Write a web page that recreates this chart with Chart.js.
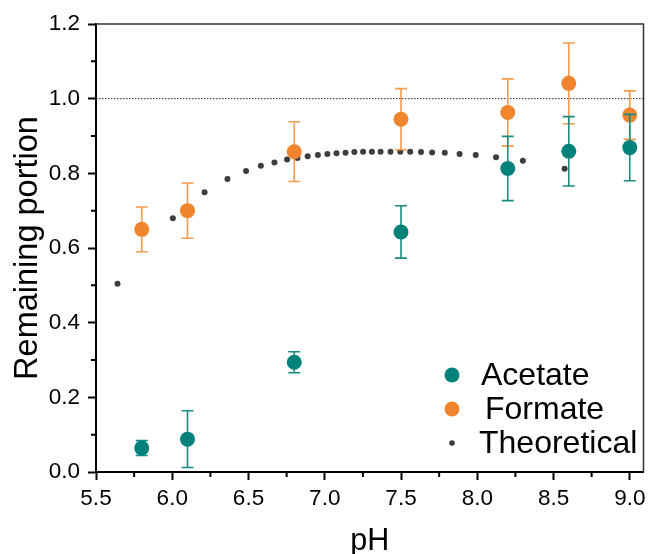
<!DOCTYPE html>
<html>
<head>
<meta charset="utf-8">
<script src="https://cdn.jsdelivr.net/npm/chart.js@4"></script>
<style>
    html, body { margin: 0; padding: 0; background: #fff; }
    #wrap { width: 651px; height: 554px; }
</style>
</head>
<body>
<div id="wrap"><canvas id="phChart" width="651" height="554"></canvas></div>
<script>
// Data
const phLevels = [5.8, 6.1, 6.8, 7.5, 8.2, 8.6, 9.0];
const acetateValues = [0.064, 0.088, 0.294, 0.643, 0.813, 0.859, 0.869];
const acetateErrors = [0.020, 0.076, 0.028, 0.070, 0.086, 0.093, 0.089];
const formateValues = [0.650, 0.700, 0.858, 0.945, 0.963, 1.041, 0.956];
const formateErrors = [0.060, 0.074, 0.080, 0.082, 0.090, 0.108, 0.065];

const theoreticalPH = [5.641, 6.004, 6.212, 6.362, 6.484, 6.581, 6.670, 6.753, 6.821, 6.888,
    6.955, 7.017, 7.077, 7.136, 7.194, 7.251, 7.309, 7.366, 7.431, 7.495,
    7.560, 7.631, 7.704, 7.787, 7.884, 7.990, 8.123, 8.299, 8.573];
const theoreticalValues = [0.504, 0.680, 0.749, 0.785, 0.806, 0.820, 0.829, 0.837, 0.841, 0.846,
    0.849, 0.852, 0.854, 0.855, 0.857, 0.858, 0.858, 0.858, 0.858, 0.858,
    0.858, 0.857, 0.856, 0.855, 0.852, 0.849, 0.843, 0.834, 0.812];

const referenceLevel = 1.0;

// Axis ticks
const xTicks = [5.5, 6.0, 6.5, 7.0, 7.5, 8.0, 8.5, 9.0];
const xMinorTicks = [5.75, 6.25, 6.75, 7.25, 7.75, 8.25, 8.75];
const yTicks = [0, 0.2, 0.4, 0.6, 0.8, 1.0, 1.2];
const yMinorTicks = [0.1, 0.3, 0.5, 0.7, 0.9, 1.1];
const xRange = [5.5, 9.09];
const yRange = [0, 1.2];

const FONT = '"Liberation Sans", Arial, sans-serif';
const TEAL = '#00827b';
const ORANGE = '#f0852d';
const DARK = '#3d3d3d';

Chart.defaults.font.family = FONT;
Chart.defaults.color = '#000';

const toPoints = (xs, ys) => xs.map((x, i) => ({ x: x, y: ys[i] }));

// Error bars, drawn just before each dataset's own markers
const errorBarPlugin = {
    id: 'errorBars',
    beforeDatasetDraw(chart, args) {
        const ds = chart.data.datasets[args.index];
        if (!ds.errors) return;
        const { ctx, scales: { x, y } } = chart;
        ctx.save();
        ctx.strokeStyle = ds.errorColor;
        ctx.lineWidth = 1.6;
        ds.data.forEach((p, i) => {
            const px = x.getPixelForValue(p.x);
            const top = y.getPixelForValue(p.y + ds.errors[i]);
            const bottom = y.getPixelForValue(p.y - ds.errors[i]);
            ctx.beginPath();
            ctx.moveTo(px, top);
            ctx.lineTo(px, bottom);
            ctx.moveTo(px - 6, top);
            ctx.lineTo(px + 6, top);
            ctx.moveTo(px - 6, bottom);
            ctx.lineTo(px + 6, bottom);
            ctx.stroke();
        });
        ctx.restore();
    }
};

// Minor ticks and the top/right frame
const framePlugin = {
    id: 'frame',
    afterDraw(chart) {
        const { ctx, chartArea: a, scales: { x, y } } = chart;
        ctx.save();
        ctx.strokeStyle = '#000';
        ctx.lineWidth = 2;
        ctx.beginPath();
        xMinorTicks.forEach(v => {
            const px = x.getPixelForValue(v);
            ctx.moveTo(px, a.bottom);
            ctx.lineTo(px, a.bottom + 5);
        });
        yMinorTicks.forEach(v => {
            const py = y.getPixelForValue(v);
            ctx.moveTo(a.left, py);
            ctx.lineTo(a.left - 5, py);
        });
        ctx.stroke();
        ctx.strokeStyle = '#333';
        ctx.lineWidth = 1.5;
        ctx.beginPath();
        ctx.moveTo(a.left, a.top);
        ctx.lineTo(a.right, a.top);
        ctx.lineTo(a.right, a.bottom);
        ctx.stroke();
        ctx.restore();
    }
};

// Legend inside the plot, bottom right
const legendPlugin = {
    id: 'insideLegend',
    afterDraw(chart) {
        const ctx = chart.ctx;
        const entries = [
            { label: 'Acetate', color: TEAL, r: 7.5, y: 375, tx: 481 },
            { label: 'Formate', color: ORANGE, r: 7.5, y: 409, tx: 485 },
            { label: 'Theoretical', color: DARK, r: 2.8, y: 443, tx: 479 }
        ];
        ctx.save();
        ctx.font = '32px ' + FONT;
        ctx.textBaseline = 'middle';
        ctx.textAlign = 'left';
        entries.forEach(e => {
            ctx.fillStyle = e.color;
            ctx.beginPath();
            ctx.arc(452, e.y, e.r, 0, Math.PI * 2);
            ctx.fill();
            ctx.fillStyle = '#000';
            ctx.fillText(e.label, e.tx, e.y + 1);
        });
        ctx.restore();
    }
};

const axisCommon = {
    type: 'linear',
    grid: { drawOnChartArea: false, drawTicks: true, tickLength: 8, tickWidth: 2, tickColor: '#000' },
    border: { display: true, color: '#000', width: 2 }
};

const ctx = document.getElementById('phChart').getContext('2d');
new Chart(ctx, {
    type: 'scatter',
    data: {
        datasets: [
            {
                label: 'Acetate',
                data: toPoints(phLevels, acetateValues),
                errors: acetateErrors,
                errorColor: '#1a8b84',
                backgroundColor: TEAL,
                borderWidth: 0,
                pointRadius: 7.5,
                pointHoverRadius: 7.5
            },
            {
                label: 'Formate',
                data: toPoints(phLevels, formateValues),
                errors: formateErrors,
                errorColor: '#f39b4e',
                backgroundColor: ORANGE,
                borderWidth: 0,
                pointRadius: 7.5,
                pointHoverRadius: 7.5
            },
            {
                label: 'Theoretical',
                data: toPoints(theoreticalPH, theoreticalValues),
                backgroundColor: DARK,
                borderWidth: 0,
                pointRadius: 3,
                pointHoverRadius: 3
            },
            {
                type: 'line',
                label: 'Reference',
                data: toPoints(xRange, [referenceLevel, referenceLevel]),
                borderColor: '#222',
                borderWidth: 1,
                borderDash: [1.5, 1.5],
                pointRadius: 0,
                fill: false
            }
        ]
    },
    options: {
        responsive: false,
        animation: false,
        events: [],
        layout: { padding: { top: 24, right: 3, left: 0, bottom: 0 } },
        plugins: {
            legend: { display: false },
            tooltip: { enabled: false }
        },
        scales: {
            x: {
                ...axisCommon,
                min: xRange[0],
                max: xRange[1],
                afterBuildTicks: scale => { scale.ticks = xTicks.map(v => ({ value: v })); },
                afterFit: scale => {
                    scale.height = 82;
                    scale.paddingLeft = scale.paddingRight = 0;
                },
                ticks: {
                    font: { size: 22.5 },
                    padding: 5,
                    maxRotation: 0,
                    autoSkip: false,
                    callback: v => Number(v).toFixed(1)
                },
                title: {
                    display: true,
                    text: 'pH',
                    font: { size: 30.5, lineHeight: 0.8 },
                    padding: 0
                }
            },
            y: {
                ...axisCommon,
                min: yRange[0],
                max: yRange[1],
                afterBuildTicks: scale => { scale.ticks = yTicks.map(v => ({ value: v })); },
                afterFit: scale => {
                    scale.width = 96;
                    scale.paddingTop = scale.paddingBottom = 0;
                },
                ticks: {
                    font: { size: 22.5 },
                    padding: 8,
                    autoSkip: false,
                    callback: v => Number(v).toFixed(1)
                },
                title: {
                    display: true,
                    text: 'Remaining portion',
                    font: { size: 32.5, lineHeight: 1.2 },
                    padding: { top: 8.5, bottom: 0 }
                }
            }
        }
    },
    plugins: [errorBarPlugin, framePlugin, legendPlugin]
});
</script>
</body>
</html>
